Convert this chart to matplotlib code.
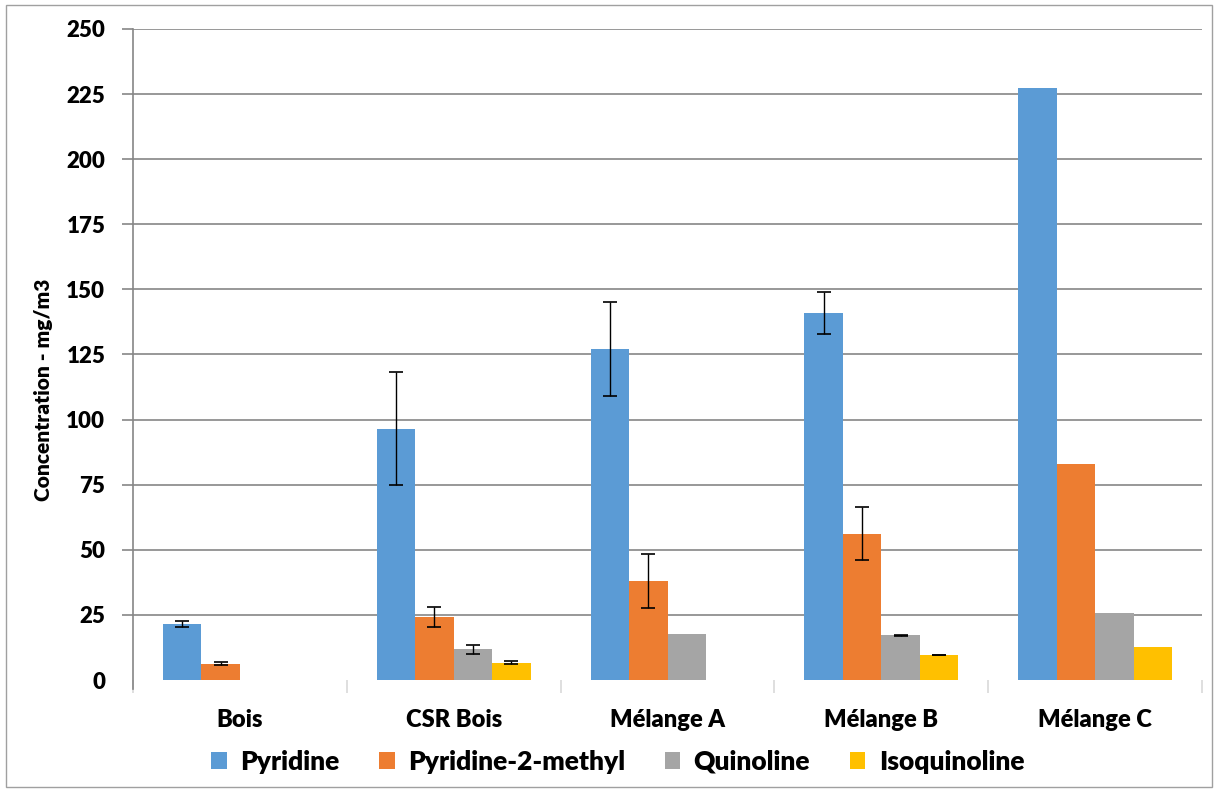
import numpy as np
import matplotlib
matplotlib.use("Agg")
import matplotlib.pyplot as plt
from matplotlib.patches import Rectangle, Patch

plt.rcParams['font.family'] = ['Lato', 'DejaVu Sans']
plt.rcParams['font.weight'] = 'bold'

categories = ['Bois', 'CSR Bois', 'Mélange A', 'Mélange B', 'Mélange C']
series = ['Pyridine', 'Pyridine-2-methyl', 'Quinoline', 'Isoquinoline']
colors = ['#5B9BD5', '#ED7D31', '#A5A5A5', '#FFC000']

pyridine = [21.5, 96.4, 127.1, 141.0, 227.5]
pyridine_err = [1.0, 21.7, 18.0, 8.0, np.nan]
methyl = [6.2, 24.2, 38.0, 56.1, 82.8]
methyl_err = [0.6, 3.7, 10.5, 10.2, np.nan]
quinoline = [0, 11.8, 17.7, 17.1, 25.9]
quinoline_err = [np.nan, 1.7, np.nan, 0.2, np.nan]
isoquinoline = [0, 6.6, 0, 9.6, 12.8]
isoquinoline_err = [np.nan, 0.6, np.nan, 0.1, np.nan]

values = [pyridine, methyl, quinoline, isoquinoline]
errors = [pyridine_err, methyl_err, quinoline_err, isoquinoline_err]

fig = plt.figure(figsize=(12.18, 7.92), dpi=100)
ax = fig.add_axes([0.1092, 0.1414, 0.8777, 0.822])

x = np.arange(len(categories))
w = 0.18
for i, (vals, errs, col) in enumerate(zip(values, errors, colors)):
    pos = x + (i - 1.5) * w
    ax.bar(pos, vals, width=w, color=col, zorder=2)
    ax.errorbar(pos, vals, yerr=errs, fmt='none', ecolor='black',
                elinewidth=1, capsize=5, capthick=1.2, zorder=3)

ax.set_xlim(-0.5, len(categories) - 0.5)
ax.set_ylim(0, 250)
ax.set_yticks(np.arange(0, 251, 25))
ax.yaxis.grid(True, color='#868686', linewidth=1.2, zorder=0)
ax.set_axisbelow(True)
# no baseline at zero in the original
ax.yaxis.get_major_ticks()[0].gridline.set_visible(False)
ax.yaxis.get_major_ticks()[0].tick1line.set_visible(False)

for s in ['top', 'right', 'bottom']:
    ax.spines[s].set_visible(False)
ax.spines['left'].set_color('#868686')
ax.spines['left'].set_linewidth(1.2)
ax.spines['left'].set_bounds(-3.5, 250)

ax.set_xticks(x)
ax.set_xticklabels(categories, fontsize=17, fontweight='heavy')
ax.set_xticks(np.arange(-0.5, len(categories)), minor=True)
ax.tick_params(axis='x', which='major', length=0, pad=21)
ax.tick_params(axis='x', which='minor', length=9, color='#d9d9d9', width=1.2)
ax.tick_params(axis='y', length=8, color='#868686', width=1.2, pad=12, labelsize=16)
for lbl in ax.get_yticklabels():
    lbl.set_fontweight('heavy')

ax.set_ylabel('Concentration - mg/m3', fontsize=15, fontweight='heavy')
ax.yaxis.set_label_coords(-0.0748, 0.445)

handles = [Patch(facecolor=c, label=s) for c, s in zip(colors, series)]
fig.legend(handles=handles, loc='center', bbox_to_anchor=(0.507, 0.038), ncol=4,
           frameon=False, handlelength=0.6, handleheight=0.6,
           handletextpad=0.5, columnspacing=1.5, prop={'weight': 'heavy', 'size': 19})

fig.patches.append(Rectangle((0.005, 0.006), 0.99, 0.988, transform=fig.transFigure,
                             fill=False, edgecolor='#a0a0a0', linewidth=1))

fig.savefig('out.png', dpi=100)
